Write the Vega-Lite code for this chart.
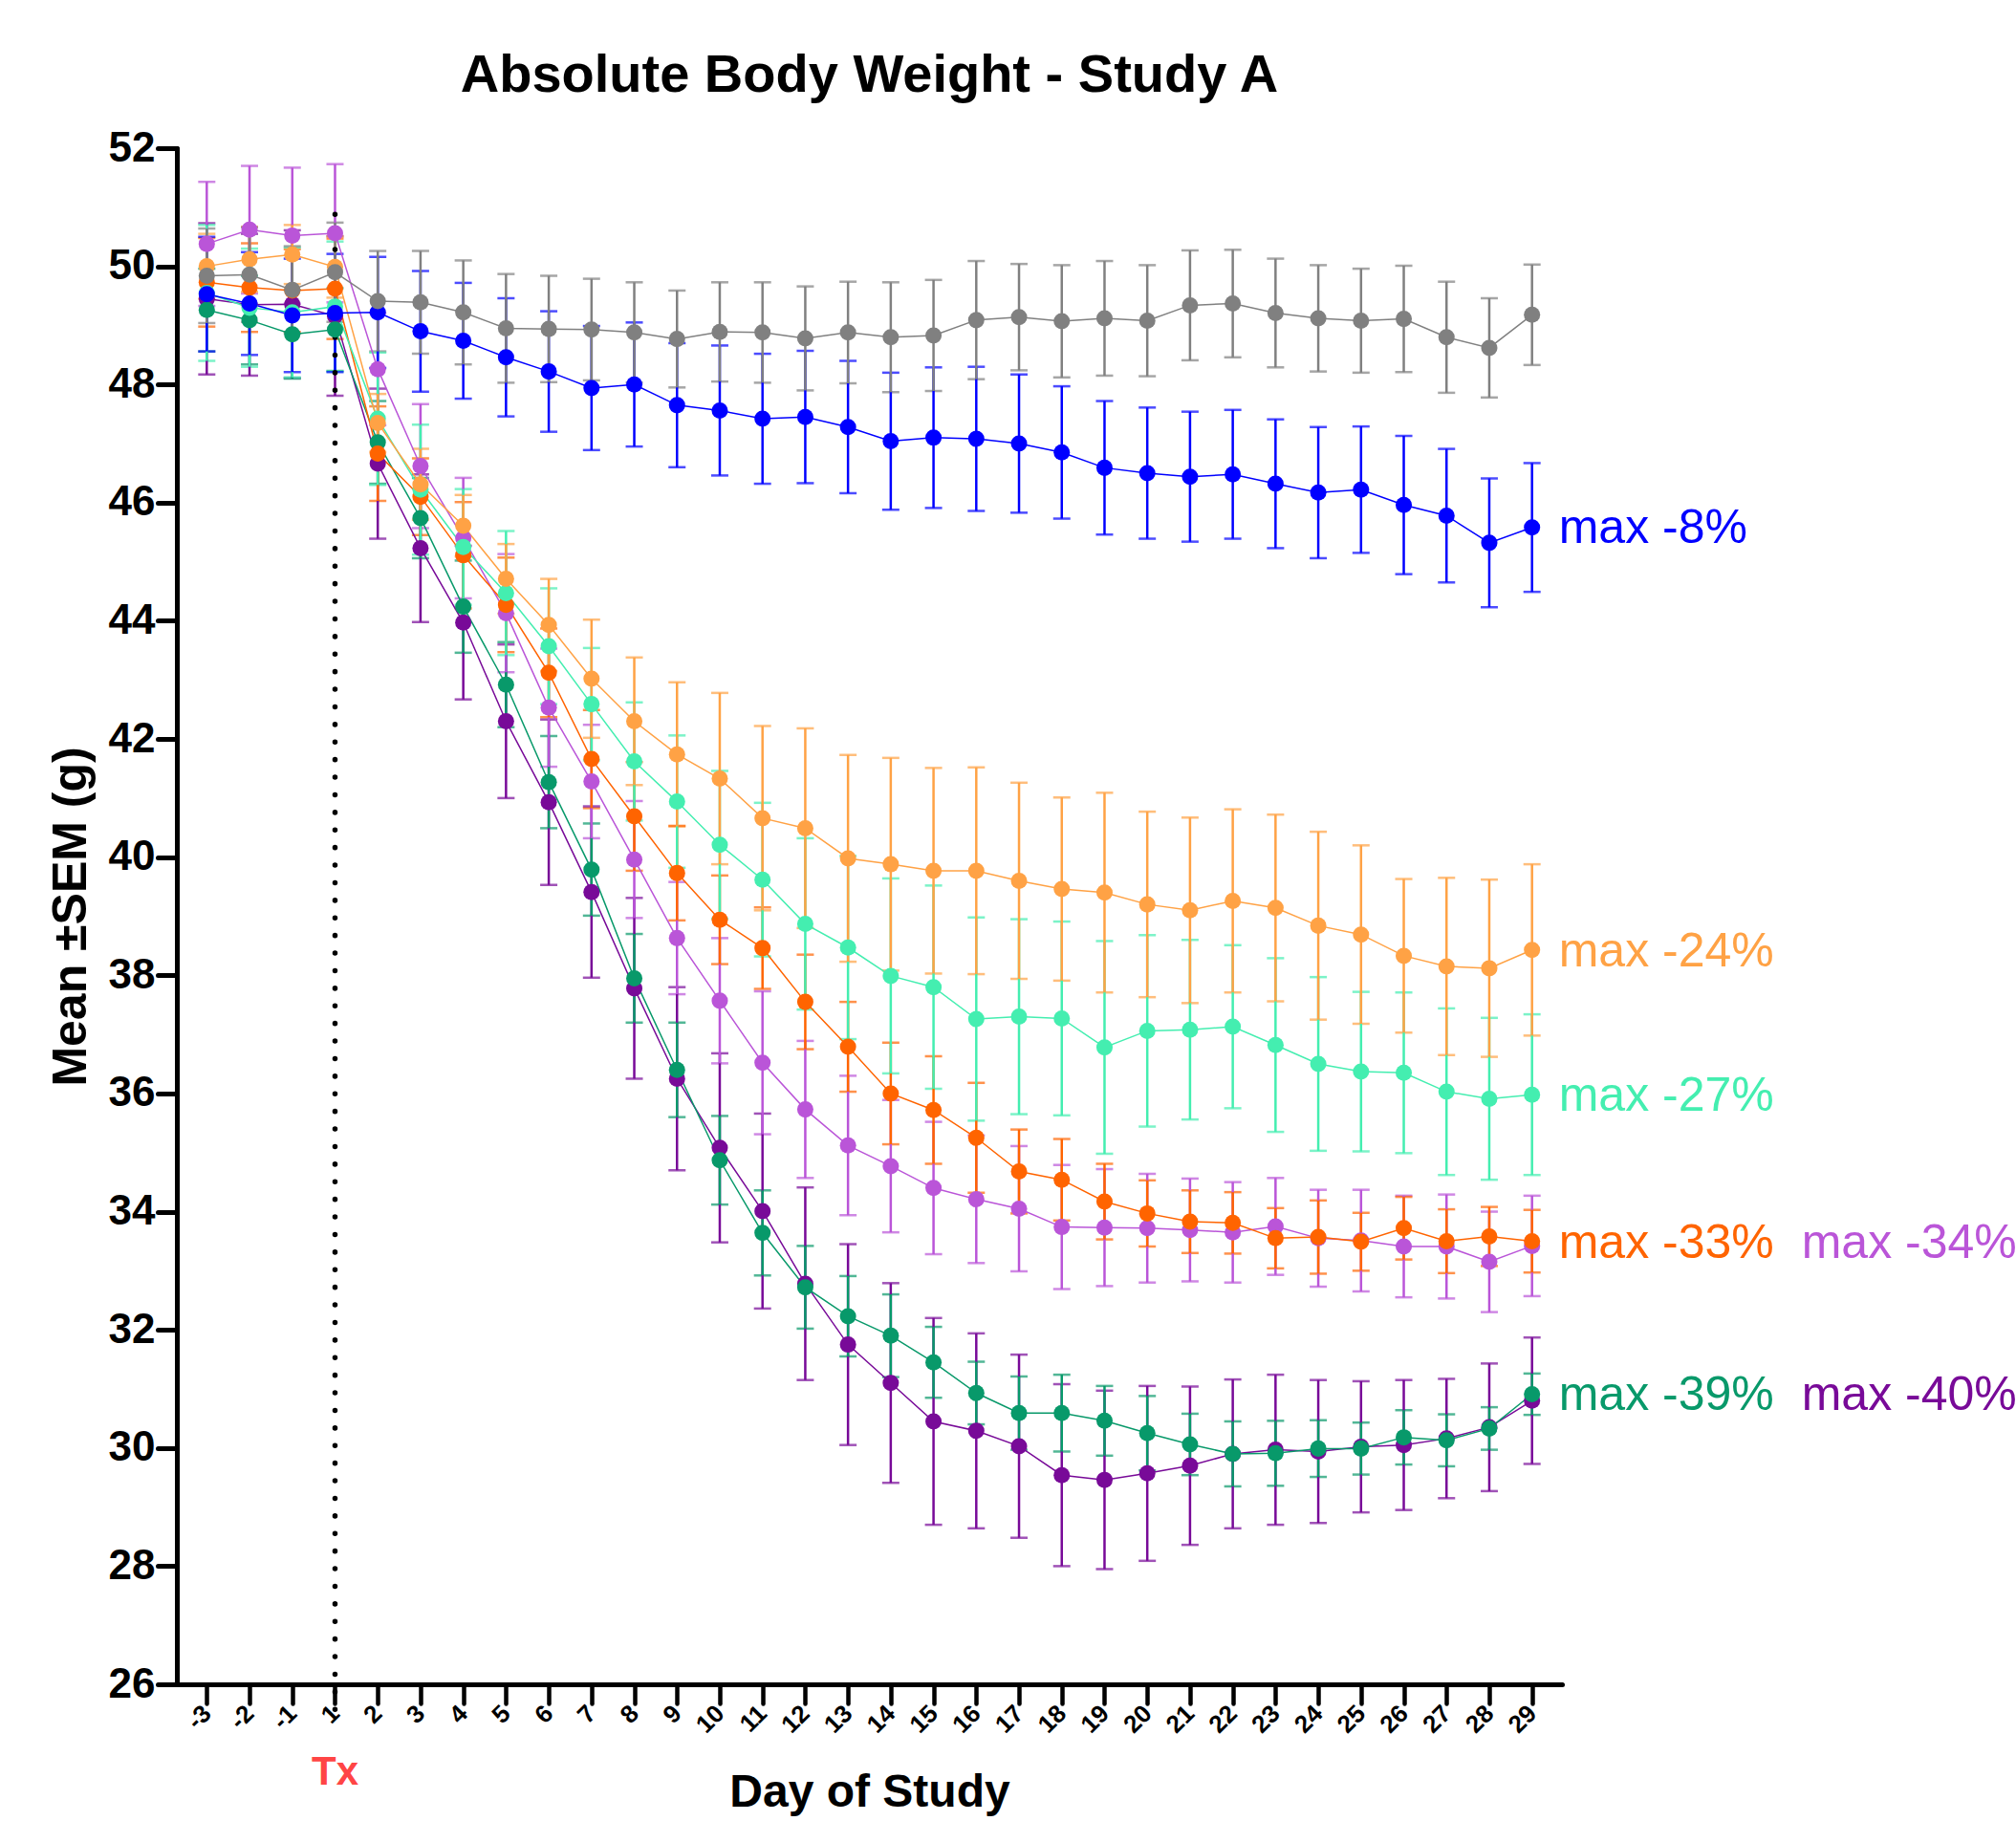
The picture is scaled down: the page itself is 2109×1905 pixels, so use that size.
{
"$schema":"https://vega.github.io/schema/vega-lite/v6.json",
"width":1449,"height":1607,
"autosize":"none",
"padding":{"left":185,"top":155,"right":475,"bottom":143},
"background":"white",
"config":{"view":{"stroke":null},"font":"Liberation Sans"},
"title":{"text":"Absolute Body Weight - Study A","font":"Liberation Sans","fontSize":56,"fontWeight":"bold","color":"black","anchor":"middle","frame":"group","offset":25},
"datasets":{
"series":[
{"group":"G8","day":"-3","mean":49.45,"sem":1.28},{"group":"G8","day":"-2","mean":49.35,"sem":1.2},{"group":"G8","day":"-1","mean":49.36,"sem":1.25},{"group":"G8","day":"1","mean":49.16,"sem":1.35},{"group":"G8","day":"2","mean":46.66,"sem":1.27},{"group":"G8","day":"3","mean":45.23,"sem":1.25},{"group":"G8","day":"4","mean":43.97,"sem":1.3},{"group":"G8","day":"5","mean":42.3,"sem":1.3},{"group":"G8","day":"6","mean":40.93,"sem":1.4},{"group":"G8","day":"7","mean":39.41,"sem":1.45},{"group":"G8","day":"8","mean":37.78,"sem":1.53},{"group":"G8","day":"9","mean":36.25,"sem":1.55},{"group":"G8","day":"10","mean":35.08,"sem":1.6},{"group":"G8","day":"11","mean":34.01,"sem":1.65},{"group":"G8","day":"12","mean":32.78,"sem":1.63},{"group":"G8","day":"13","mean":31.75,"sem":1.7},{"group":"G8","day":"14","mean":31.1,"sem":1.69},{"group":"G8","day":"15","mean":30.45,"sem":1.75},{"group":"G8","day":"16","mean":30.29,"sem":1.65},{"group":"G8","day":"17","mean":30.03,"sem":1.55},{"group":"G8","day":"18","mean":29.54,"sem":1.54},{"group":"G8","day":"19","mean":29.46,"sem":1.51},{"group":"G8","day":"20","mean":29.57,"sem":1.48},{"group":"G8","day":"21","mean":29.7,"sem":1.34},{"group":"G8","day":"22","mean":29.9,"sem":1.26},{"group":"G8","day":"23","mean":29.97,"sem":1.27},{"group":"G8","day":"24","mean":29.94,"sem":1.21},{"group":"G8","day":"25","mean":30.02,"sem":1.11},{"group":"G8","day":"26","mean":30.05,"sem":1.1},{"group":"G8","day":"27","mean":30.16,"sem":1.01},{"group":"G8","day":"28","mean":30.35,"sem":1.08},{"group":"G8","day":"29","mean":30.8,"sem":1.07},
{"group":"G7","day":"-3","mean":49.26,"sem":0.7},{"group":"G7","day":"-2","mean":49.09,"sem":0.75},{"group":"G7","day":"-1","mean":48.85,"sem":0.75},{"group":"G7","day":"1","mean":48.93,"sem":0.7},{"group":"G7","day":"2","mean":47.02,"sem":0.7},{"group":"G7","day":"3","mean":45.74,"sem":0.68},{"group":"G7","day":"4","mean":44.24,"sem":0.78},{"group":"G7","day":"5","mean":42.92,"sem":0.72},{"group":"G7","day":"6","mean":41.27,"sem":0.78},{"group":"G7","day":"7","mean":39.79,"sem":0.78},{"group":"G7","day":"8","mean":37.95,"sem":0.75},{"group":"G7","day":"9","mean":36.4,"sem":0.8},{"group":"G7","day":"10","mean":34.87,"sem":0.75},{"group":"G7","day":"11","mean":33.64,"sem":0.72},{"group":"G7","day":"12","mean":32.72,"sem":0.7},{"group":"G7","day":"13","mean":32.23,"sem":0.68},{"group":"G7","day":"14","mean":31.9,"sem":0.7},{"group":"G7","day":"15","mean":31.45,"sem":0.6},{"group":"G7","day":"16","mean":30.93,"sem":0.53},{"group":"G7","day":"17","mean":30.59,"sem":0.62},{"group":"G7","day":"18","mean":30.59,"sem":0.65},{"group":"G7","day":"19","mean":30.46,"sem":0.59},{"group":"G7","day":"20","mean":30.25,"sem":0.63},{"group":"G7","day":"21","mean":30.06,"sem":0.52},{"group":"G7","day":"22","mean":29.9,"sem":0.55},{"group":"G7","day":"23","mean":29.91,"sem":0.55},{"group":"G7","day":"24","mean":29.99,"sem":0.48},{"group":"G7","day":"25","mean":29.99,"sem":0.44},{"group":"G7","day":"26","mean":30.18,"sem":0.46},{"group":"G7","day":"27","mean":30.13,"sem":0.44},{"group":"G7","day":"28","mean":30.33,"sem":0.36},{"group":"G7","day":"29","mean":30.91,"sem":0.35},
{"group":"G6","day":"-3","mean":50.38,"sem":1.05},{"group":"G6","day":"-2","mean":50.62,"sem":1.08},{"group":"G6","day":"-1","mean":50.52,"sem":1.15},{"group":"G6","day":"1","mean":50.56,"sem":1.17},{"group":"G6","day":"2","mean":48.26,"sem":0.95},{"group":"G6","day":"3","mean":46.62,"sem":1.05},{"group":"G6","day":"4","mean":45.4,"sem":1.02},{"group":"G6","day":"5","mean":44.13,"sem":1.0},{"group":"G6","day":"6","mean":42.53,"sem":1.0},{"group":"G6","day":"7","mean":41.28,"sem":0.96},{"group":"G6","day":"8","mean":39.96,"sem":0.99},{"group":"G6","day":"9","mean":38.63,"sem":0.95},{"group":"G6","day":"10","mean":37.57,"sem":1.06},{"group":"G6","day":"11","mean":36.52,"sem":1.21},{"group":"G6","day":"12","mean":35.73,"sem":1.16},{"group":"G6","day":"13","mean":35.12,"sem":1.18},{"group":"G6","day":"14","mean":34.77,"sem":1.12},{"group":"G6","day":"15","mean":34.4,"sem":1.12},{"group":"G6","day":"16","mean":34.21,"sem":1.08},{"group":"G6","day":"17","mean":34.05,"sem":1.06},{"group":"G6","day":"18","mean":33.74,"sem":1.05},{"group":"G6","day":"19","mean":33.73,"sem":0.99},{"group":"G6","day":"20","mean":33.72,"sem":0.92},{"group":"G6","day":"21","mean":33.69,"sem":0.87},{"group":"G6","day":"22","mean":33.65,"sem":0.85},{"group":"G6","day":"23","mean":33.75,"sem":0.82},{"group":"G6","day":"24","mean":33.55,"sem":0.82},{"group":"G6","day":"25","mean":33.51,"sem":0.86},{"group":"G6","day":"26","mean":33.41,"sem":0.86},{"group":"G6","day":"27","mean":33.41,"sem":0.88},{"group":"G6","day":"28","mean":33.15,"sem":0.85},{"group":"G6","day":"29","mean":33.42,"sem":0.85},
{"group":"G5","day":"-3","mean":49.73,"sem":0.75},{"group":"G5","day":"-2","mean":49.64,"sem":0.75},{"group":"G5","day":"-1","mean":49.59,"sem":0.7},{"group":"G5","day":"1","mean":49.62,"sem":0.85},{"group":"G5","day":"2","mean":46.83,"sem":0.8},{"group":"G5","day":"3","mean":46.1,"sem":0.65},{"group":"G5","day":"4","mean":45.11,"sem":0.9},{"group":"G5","day":"5","mean":44.27,"sem":0.8},{"group":"G5","day":"6","mean":43.12,"sem":0.75},{"group":"G5","day":"7","mean":41.66,"sem":0.83},{"group":"G5","day":"8","mean":40.69,"sem":0.92},{"group":"G5","day":"9","mean":39.73,"sem":0.8},{"group":"G5","day":"10","mean":38.94,"sem":0.75},{"group":"G5","day":"11","mean":38.46,"sem":0.69},{"group":"G5","day":"12","mean":37.55,"sem":0.8},{"group":"G5","day":"13","mean":36.79,"sem":0.76},{"group":"G5","day":"14","mean":36.0,"sem":0.86},{"group":"G5","day":"15","mean":35.72,"sem":0.91},{"group":"G5","day":"16","mean":35.25,"sem":0.93},{"group":"G5","day":"17","mean":34.68,"sem":0.71},{"group":"G5","day":"18","mean":34.54,"sem":0.69},{"group":"G5","day":"19","mean":34.17,"sem":0.64},{"group":"G5","day":"20","mean":33.97,"sem":0.56},{"group":"G5","day":"21","mean":33.83,"sem":0.53},{"group":"G5","day":"22","mean":33.81,"sem":0.52},{"group":"G5","day":"23","mean":33.55,"sem":0.51},{"group":"G5","day":"24","mean":33.57,"sem":0.62},{"group":"G5","day":"25","mean":33.49,"sem":0.49},{"group":"G5","day":"26","mean":33.72,"sem":0.53},{"group":"G5","day":"27","mean":33.5,"sem":0.54},{"group":"G5","day":"28","mean":33.58,"sem":0.5},{"group":"G5","day":"29","mean":33.5,"sem":0.53},
{"group":"G4","day":"-3","mean":49.55,"sem":1.15},{"group":"G4","day":"-2","mean":49.3,"sem":1.0},{"group":"G4","day":"-1","mean":49.22,"sem":1.1},{"group":"G4","day":"1","mean":49.32,"sem":1.1},{"group":"G4","day":"2","mean":47.42,"sem":1.12},{"group":"G4","day":"3","mean":46.22,"sem":1.1},{"group":"G4","day":"4","mean":45.25,"sem":0.98},{"group":"G4","day":"5","mean":44.47,"sem":1.05},{"group":"G4","day":"6","mean":43.57,"sem":0.98},{"group":"G4","day":"7","mean":42.59,"sem":0.95},{"group":"G4","day":"8","mean":41.62,"sem":1.0},{"group":"G4","day":"9","mean":40.94,"sem":1.12},{"group":"G4","day":"10","mean":40.21,"sem":1.25},{"group":"G4","day":"11","mean":39.62,"sem":1.3},{"group":"G4","day":"12","mean":38.87,"sem":1.45},{"group":"G4","day":"13","mean":38.47,"sem":1.55},{"group":"G4","day":"14","mean":37.99,"sem":1.65},{"group":"G4","day":"15","mean":37.8,"sem":1.72},{"group":"G4","day":"16","mean":37.26,"sem":1.72},{"group":"G4","day":"17","mean":37.3,"sem":1.65},{"group":"G4","day":"18","mean":37.27,"sem":1.64},{"group":"G4","day":"19","mean":36.78,"sem":1.8},{"group":"G4","day":"20","mean":37.06,"sem":1.62},{"group":"G4","day":"21","mean":37.08,"sem":1.52},{"group":"G4","day":"22","mean":37.13,"sem":1.38},{"group":"G4","day":"23","mean":36.82,"sem":1.47},{"group":"G4","day":"24","mean":36.5,"sem":1.47},{"group":"G4","day":"25","mean":36.37,"sem":1.35},{"group":"G4","day":"26","mean":36.35,"sem":1.36},{"group":"G4","day":"27","mean":36.03,"sem":1.41},{"group":"G4","day":"28","mean":35.91,"sem":1.37},{"group":"G4","day":"29","mean":35.98,"sem":1.36},
{"group":"G3","day":"-3","mean":50.0,"sem":0.55},{"group":"G3","day":"-2","mean":50.12,"sem":0.55},{"group":"G3","day":"-1","mean":50.2,"sem":0.5},{"group":"G3","day":"1","mean":49.99,"sem":0.52},{"group":"G3","day":"2","mean":47.35,"sem":0.49},{"group":"G3","day":"3","mean":46.31,"sem":0.6},{"group":"G3","day":"4","mean":45.61,"sem":0.52},{"group":"G3","day":"5","mean":44.71,"sem":0.59},{"group":"G3","day":"6","mean":43.93,"sem":0.78},{"group":"G3","day":"7","mean":43.02,"sem":1.0},{"group":"G3","day":"8","mean":42.3,"sem":1.08},{"group":"G3","day":"9","mean":41.74,"sem":1.22},{"group":"G3","day":"10","mean":41.33,"sem":1.45},{"group":"G3","day":"11","mean":40.66,"sem":1.56},{"group":"G3","day":"12","mean":40.49,"sem":1.69},{"group":"G3","day":"13","mean":39.98,"sem":1.75},{"group":"G3","day":"14","mean":39.88,"sem":1.8},{"group":"G3","day":"15","mean":39.77,"sem":1.74},{"group":"G3","day":"16","mean":39.77,"sem":1.75},{"group":"G3","day":"17","mean":39.6,"sem":1.66},{"group":"G3","day":"18","mean":39.46,"sem":1.55},{"group":"G3","day":"19","mean":39.4,"sem":1.69},{"group":"G3","day":"20","mean":39.2,"sem":1.57},{"group":"G3","day":"21","mean":39.1,"sem":1.57},{"group":"G3","day":"22","mean":39.26,"sem":1.55},{"group":"G3","day":"23","mean":39.14,"sem":1.58},{"group":"G3","day":"24","mean":38.84,"sem":1.59},{"group":"G3","day":"25","mean":38.69,"sem":1.51},{"group":"G3","day":"26","mean":38.33,"sem":1.3},{"group":"G3","day":"27","mean":38.15,"sem":1.5},{"group":"G3","day":"28","mean":38.12,"sem":1.5},{"group":"G3","day":"29","mean":38.43,"sem":1.45},
{"group":"G2","day":"-3","mean":49.53,"sem":0.97},{"group":"G2","day":"-2","mean":49.37,"sem":0.87},{"group":"G2","day":"-1","mean":49.17,"sem":0.96},{"group":"G2","day":"1","mean":49.21,"sem":1.0},{"group":"G2","day":"2","mean":49.22,"sem":0.94},{"group":"G2","day":"3","mean":48.9,"sem":1.02},{"group":"G2","day":"4","mean":48.74,"sem":0.98},{"group":"G2","day":"5","mean":48.46,"sem":1.0},{"group":"G2","day":"6","mean":48.22,"sem":1.02},{"group":"G2","day":"7","mean":47.94,"sem":1.05},{"group":"G2","day":"8","mean":48.0,"sem":1.05},{"group":"G2","day":"9","mean":47.65,"sem":1.05},{"group":"G2","day":"10","mean":47.56,"sem":1.1},{"group":"G2","day":"11","mean":47.42,"sem":1.1},{"group":"G2","day":"12","mean":47.45,"sem":1.12},{"group":"G2","day":"13","mean":47.28,"sem":1.12},{"group":"G2","day":"14","mean":47.04,"sem":1.16},{"group":"G2","day":"15","mean":47.1,"sem":1.19},{"group":"G2","day":"16","mean":47.08,"sem":1.22},{"group":"G2","day":"17","mean":47.0,"sem":1.17},{"group":"G2","day":"18","mean":46.85,"sem":1.12},{"group":"G2","day":"19","mean":46.59,"sem":1.13},{"group":"G2","day":"20","mean":46.5,"sem":1.11},{"group":"G2","day":"21","mean":46.44,"sem":1.1},{"group":"G2","day":"22","mean":46.48,"sem":1.09},{"group":"G2","day":"23","mean":46.32,"sem":1.09},{"group":"G2","day":"24","mean":46.17,"sem":1.11},{"group":"G2","day":"25","mean":46.22,"sem":1.07},{"group":"G2","day":"26","mean":45.96,"sem":1.17},{"group":"G2","day":"27","mean":45.78,"sem":1.13},{"group":"G2","day":"28","mean":45.32,"sem":1.09},{"group":"G2","day":"29","mean":45.58,"sem":1.09},
{"group":"G1","day":"-3","mean":49.84,"sem":0.8},{"group":"G1","day":"-2","mean":49.86,"sem":0.8},{"group":"G1","day":"-1","mean":49.6,"sem":0.74},{"group":"G1","day":"1","mean":49.9,"sem":0.84},{"group":"G1","day":"2","mean":49.41,"sem":0.85},{"group":"G1","day":"3","mean":49.39,"sem":0.87},{"group":"G1","day":"4","mean":49.22,"sem":0.88},{"group":"G1","day":"5","mean":48.95,"sem":0.92},{"group":"G1","day":"6","mean":48.94,"sem":0.9},{"group":"G1","day":"7","mean":48.93,"sem":0.86},{"group":"G1","day":"8","mean":48.88,"sem":0.85},{"group":"G1","day":"9","mean":48.77,"sem":0.82},{"group":"G1","day":"10","mean":48.89,"sem":0.84},{"group":"G1","day":"11","mean":48.88,"sem":0.85},{"group":"G1","day":"12","mean":48.78,"sem":0.88},{"group":"G1","day":"13","mean":48.88,"sem":0.86},{"group":"G1","day":"14","mean":48.8,"sem":0.93},{"group":"G1","day":"15","mean":48.83,"sem":0.94},{"group":"G1","day":"16","mean":49.09,"sem":1.0},{"group":"G1","day":"17","mean":49.14,"sem":0.9},{"group":"G1","day":"18","mean":49.07,"sem":0.95},{"group":"G1","day":"19","mean":49.12,"sem":0.97},{"group":"G1","day":"20","mean":49.08,"sem":0.94},{"group":"G1","day":"21","mean":49.34,"sem":0.93},{"group":"G1","day":"22","mean":49.37,"sem":0.91},{"group":"G1","day":"23","mean":49.21,"sem":0.92},{"group":"G1","day":"24","mean":49.12,"sem":0.9},{"group":"G1","day":"25","mean":49.08,"sem":0.88},{"group":"G1","day":"26","mean":49.11,"sem":0.9},{"group":"G1","day":"27","mean":48.8,"sem":0.94},{"group":"G1","day":"28","mean":48.62,"sem":0.84},{"group":"G1","day":"29","mean":49.18,"sem":0.85}
],
"labels":[
{"group":"G2","label":"max -8%","day":"29","value":45.56,"col":1},
{"group":"G3","label":"max -24%","day":"29","value":38.4,"col":1},
{"group":"G4","label":"max -27%","day":"29","value":35.95,"col":1},
{"group":"G5","label":"max -33%","day":"29","value":33.46,"col":1},
{"group":"G6","label":"max -34%","day":"29","value":33.46,"col":2},
{"group":"G7","label":"max -39%","day":"29","value":30.88,"col":1},
{"group":"G8","label":"max -40%","day":"29","value":30.88,"col":2}
],
"marker":[{"day":"1","top":50.88,"bottom":25.56,"label":"Tx","base":26}]
},
"layer":[
{"data":{"name":"series"},
 "mark":{"type":"errorbar","ticks":true,"size":18,"thickness":2.5},
 "encoding":{
  "x":{"field":"day","type":"ordinal","title":"Day of Study","scale":{"type":"point","padding":0.7,"domain":["-3","-2","-1","1","2","3","4","5","6","7","8","9","10","11","12","13","14","15","16","17","18","19","20","21","22","23","24","25","26","27","28","29"]},
   "axis":{"titleFont":"Liberation Sans","titleFontSize":48,"titleFontWeight":"bold","titleColor":"black","titlePadding":34,
    "labelAngle":-45,"labelAlign":"right","labelBaseline":"middle","labelFont":"Liberation Sans","labelFontSize":26,"labelFontWeight":"bold","labelColor":"black","labelPadding":6,
    "domainColor":"black","domainWidth":5,"domainCap":"round","tickColor":"black","tickWidth":4.5,"tickSize":20,"tickCap":"round","grid":false}},
  "y":{"field":"mean","type":"quantitative","title":"Mean ±SEM (g)","scale":{"domain":[26,52],"nice":false,"zero":false},
   "axis":{"values":[26,28,30,32,34,36,38,40,42,44,46,48,50,52],"format":"d","titleFont":"Liberation Sans","titleFontSize":50,"titleFontWeight":"bold","titleColor":"black","titlePadding":14,
    "labelFont":"Liberation Sans","labelFontSize":44,"labelFontWeight":"bold","labelColor":"black","labelPadding":3,
    "domainColor":"black","domainWidth":5,"domainCap":"round","tickColor":"black","tickWidth":5,"tickSize":20,"tickCap":"round","grid":false}},
  "yError":{"field":"sem"},
  "color":{"field":"group","type":"nominal","legend":null,
   "scale":{"domain":["G1","G2","G3","G4","G5","G6","G7","G8"],"range":["#808080","#0000FF","#FFA245","#44EEB0","#FF6400","#BA55D8","#08996A","#780A98"]}}
 }},
{"data":{"name":"marker"},
 "mark":{"type":"rule","color":"black","strokeWidth":5.5,"strokeDash":[0.1,18.3],"strokeCap":"round"},
 "encoding":{
  "x":{"field":"day","type":"ordinal","title":"Day of Study"},
  "y":{"field":"top","type":"quantitative","title":"Mean ±SEM (g)"},
  "y2":{"field":"bottom"}
 }},
{"data":{"name":"series"},
 "mark":{"type":"line","strokeWidth":1.5},
 "encoding":{
  "x":{"field":"day","type":"ordinal","title":"Day of Study"},
  "y":{"field":"mean","type":"quantitative","title":"Mean ±SEM (g)"},
  "color":{"field":"group","type":"nominal","legend":null}
 }},
{"data":{"name":"series"},
 "mark":{"type":"point","filled":true,"size":290,"opacity":1},
 "encoding":{
  "x":{"field":"day","type":"ordinal","title":"Day of Study"},
  "y":{"field":"mean","type":"quantitative","title":"Mean ±SEM (g)"},
  "color":{"field":"group","type":"nominal","legend":null}
 }},
{"data":{"name":"labels"},
 "transform":[{"filter":"datum.col == 1"}],
 "mark":{"type":"text","align":"left","baseline":"middle","dx":28,"fontSize":50,"font":"Liberation Sans"},
 "encoding":{
  "x":{"field":"day","type":"ordinal","title":"Day of Study"},
  "y":{"field":"value","type":"quantitative","title":"Mean ±SEM (g)"},
  "text":{"field":"label"},
  "color":{"field":"group","type":"nominal","legend":null}
 }},
{"data":{"name":"labels"},
 "transform":[{"filter":"datum.col == 2"}],
 "mark":{"type":"text","align":"left","baseline":"middle","dx":282,"fontSize":50,"font":"Liberation Sans"},
 "encoding":{
  "x":{"field":"day","type":"ordinal","title":"Day of Study"},
  "y":{"field":"value","type":"quantitative","title":"Mean ±SEM (g)"},
  "text":{"field":"label"},
  "color":{"field":"group","type":"nominal","legend":null}
 }},
{"data":{"name":"marker"},
 "mark":{"type":"text","align":"center","baseline":"alphabetic","dy":105,"fontSize":42,"fontWeight":"bold","font":"Liberation Sans","color":"#FF4545"},
 "encoding":{
  "x":{"field":"day","type":"ordinal","title":"Day of Study"},
  "y":{"field":"base","type":"quantitative","title":"Mean ±SEM (g)"},
  "text":{"field":"label"}
 }}
]
}
